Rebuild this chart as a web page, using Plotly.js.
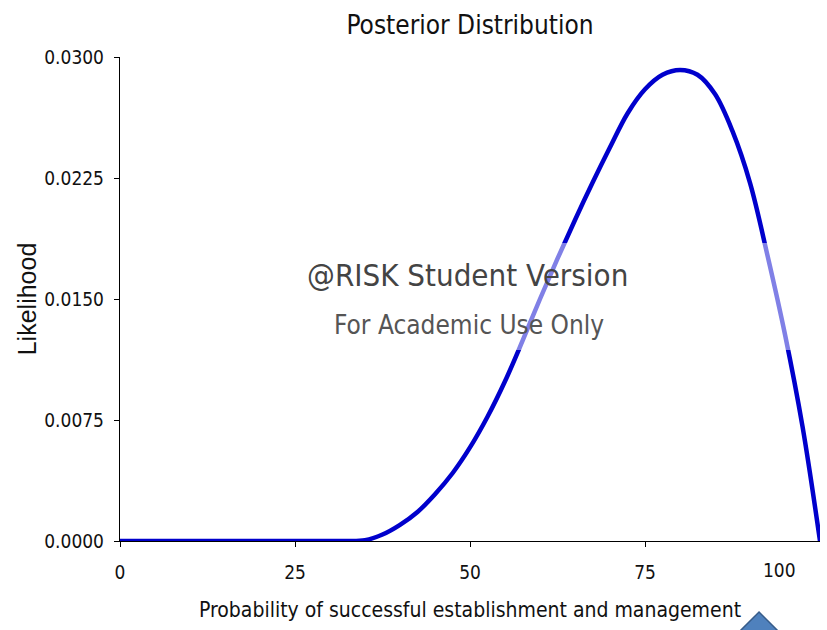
<!DOCTYPE html>
<html>
<head>
<meta charset="utf-8">
<script src="https://cdn.plot.ly/plotly-3.0.1.min.js"></script>
<style>
html,body{margin:0;padding:0;background:#fff;}
#chart{width:827px;height:630px;}
</style>
</head>
<body>
<div id="chart"></div>
<script>
// Data
var probability = [0, 5, 10, 15, 20, 25, 30, 32.5, 35, 37.5, 40, 42.5, 45, 47.5, 50, 52.5, 55, 57.5, 60, 62.5, 65, 67.5, 70, 72.5, 75, 77.5, 80, 82.5, 85, 87.5, 90, 92.5, 95, 97.5, 100];
var likelihood = [0, 0, 0, 0, 0, 0, 0, 0, 0.00005, 0.0004, 0.0010, 0.0018, 0.0029, 0.0042, 0.0058, 0.0077, 0.0099, 0.0124, 0.0150, 0.0175, 0.0199, 0.0222, 0.0244, 0.0265, 0.0280, 0.0289, 0.0292, 0.0289, 0.0277, 0.0254, 0.0222, 0.0177, 0.0128, 0.0071, 0];
var xTickVals = [0, 25, 50, 75];
var xTickText = ['0', '25', '50', '75'];
var xLastTick = 100;
var xLastTickText = '100';
var yTickVals = [0, 0.0075, 0.015, 0.0225, 0.03];
var yTickText = ['0.0000', '0.0075', '0.0150', '0.0225', '0.0300'];

var narrow = '"Liberation Sans Narrow", "DejaVu Sans Condensed", "Arial Narrow", sans-serif';

var trace = {
  x: probability,
  y: likelihood,
  type: 'scatter',
  mode: 'lines',
  line: {color: '#0000CC', width: 4.5, shape: 'spline', smoothing: 1},
  cliponaxis: false,
  hoverinfo: 'x+y'
};

var layout = {
  width: 827,
  height: 630,
  margin: {l: 120, r: 7, t: 57, b: 89},
  paper_bgcolor: '#ffffff',
  plot_bgcolor: '#ffffff',
  showlegend: false,
  title: {
    text: 'Posterior Distribution',
    font: {family: narrow, size: 26, color: '#111'},
    x: 0.5, xref: 'paper', xanchor: 'center',
    y: 0.961, yref: 'container', yanchor: 'middle'
  },
  xaxis: {
    range: [0, 100],
    tickvals: xTickVals,
    ticktext: xTickText,
    showgrid: false,
    zeroline: false,
    showline: true,
    linecolor: '#000',
    linewidth: 1.2,
    ticks: 'outside',
    ticklen: 5,
    tickcolor: '#000',
    ticklabelstandoff: 9,
    tickfont: {family: narrow, size: 19, color: '#111'},
    title: {
      text: 'Probability of successful establishment and management',
      font: {family: narrow, size: 21, color: '#111'},
      standoff: 20
    },
    fixedrange: true
  },
  yaxis: {
    range: [0, 0.03],
    tickvals: yTickVals,
    ticktext: yTickText,
    showgrid: false,
    zeroline: false,
    showline: true,
    linecolor: '#000',
    linewidth: 1.2,
    ticks: 'outside',
    ticklen: 5,
    tickcolor: '#000',
    ticklabelstandoff: 6,
    tickfont: {family: narrow, size: 19, color: '#111'},
    title: {
      text: 'Likelihood',
      font: {family: '"Liberation Sans", Arial, sans-serif', size: 25, color: '#111'},
      standoff: 0
    },
    fixedrange: true
  },
  shapes: [
    {
      type: 'rect', xref: 'paper', yref: 'paper',
      x0: 0.26, x1: 0.96, y0: 0.3946, y1: 0.6157,
      fillcolor: 'rgba(255,255,255,0.5)', line: {width: 0}, layer: 'above'
    },
    {
      type: 'path', xref: 'paper', yref: 'paper',
      path: 'M 0.9129 -0.1467 L 0.9486 -0.1983 L 0.8771 -0.1983 Z',
      fillcolor: '#4F81BD', line: {color: '#385D8A', width: 1.5}, layer: 'above'
    }
  ],
  annotations: [
    {
      text: xLastTickText, x: xLastTick, xref: 'x', xanchor: 'right', xshift: -22,
      y: 0, yref: 'y', yanchor: 'top', yshift: -16,
      showarrow: false, font: {family: narrow, size: 19, color: '#111'}
    },
    {
      text: '@RISK Student Version', xref: 'paper', yref: 'paper',
      x: 0.497, y: 0.5496, xanchor: 'center', yanchor: 'middle',
      showarrow: false, font: {family: '"DejaVu Sans Condensed", "DejaVu Sans", sans-serif', size: 31, color: '#444'}
    },
    {
      text: 'For Academic Use Only', xref: 'paper', yref: 'paper',
      x: 0.499, y: 0.446, xanchor: 'center', yanchor: 'middle',
      showarrow: false, font: {family: narrow, size: 26, color: '#555'}
    }
  ]
};

Plotly.newPlot('chart', [trace], layout, {displayModeBar: false, staticPlot: true});
</script>
</body>
</html>
